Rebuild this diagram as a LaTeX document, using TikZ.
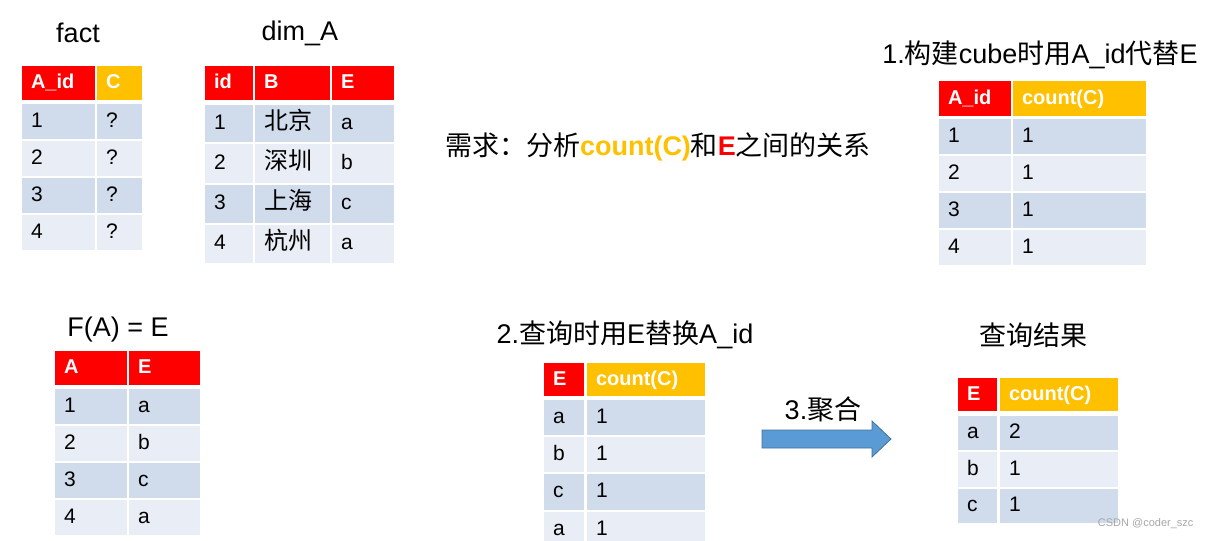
\documentclass[tikz,border=0pt]{standalone}
\usepackage{fontspec}
\setmainfont{Liberation Sans}
\newfontfamily\cjk{Noto Sans CJK SC}
\definecolor{hred}{HTML}{FF0000}
\definecolor{horg}{HTML}{FFC000}
\definecolor{rowa}{HTML}{D0DBEC}
\definecolor{rowb}{HTML}{E9EDF5}
\definecolor{arrowblue}{HTML}{5B9BD5}
\definecolor{arrowedge}{HTML}{41719C}
\newcommand{\hd}{\fontsize{20}{22}\selectfont\bfseries\color{white}}
\newcommand{\cell}[7]{%
  \pgfmathsetmacro{\cw}{#4-#2}\pgfmathsetmacro{\ch}{#5-#3}\pgfmathsetmacro{\ctw}{#4-#2-18}%
  \pgfmathsetmacro{\cx}{(#2+#4)/2}\pgfmathsetmacro{\cy}{(#3+#5)/2}%
  \node[cellbox,fill=#6,minimum width=\cw pt,minimum height=\ch pt,text width=\ctw pt] (#1) at (\cx,\cy) {#7};}
\tikzset{
  cellbox/.style={inner xsep=9pt,inner ysep=0pt,align=left,font=\fontsize{21}{23}\selectfont,text height=15pt,text depth=4pt},
  ttl/.style={font=\fontsize{27}{30}\selectfont,inner sep=0pt}
}
\begin{document}
\begin{tikzpicture}[x=1pt,y=-1pt]
\useasboundingbox (0,0) rectangle (1211,541);
% titles
\node[ttl] (tfact) at (78,33) {fact};
\node[ttl] (tdim) at (300,33) {dim\_A};
\node[ttl] (tcube) at (1040,55) {1.{\cjk 构建}cube{\cjk 时用}A\_id{\cjk 代替}E};
\node[ttl] (treq) at (658,147) {{\cjk 需求：分析}{\bfseries\color{horg}count(C)}{\cjk 和}{\bfseries\color{hred}E}{\cjk 之间的关系}};
\node[ttl] (tfa) at (118,330) {F(A) = E};
\node[ttl] (tq) at (625,335) {2.{\cjk 查询时用}E{\cjk 替换}A\_id};
\node[ttl] (tres) at (1033,335) {\cjk 查询结果};
\node[ttl] (tagg) at (823,409) {3.{\cjk 聚合}};
% fact
\cell{f0a}{22}{66}{95}{100}{hred}{\hd A\_id}
\cell{f0b}{97}{66}{142}{100}{horg}{\hd C}
\cell{f1a}{22}{104}{95}{139}{rowa}{1}\cell{f1b}{97}{104}{142}{139}{rowa}{?}
\cell{f2a}{22}{141}{95}{176}{rowb}{2}\cell{f2b}{97}{141}{142}{176}{rowb}{?}
\cell{f3a}{22}{178}{95}{213}{rowa}{3}\cell{f3b}{97}{178}{142}{213}{rowa}{?}
\cell{f4a}{22}{215}{95}{250}{rowb}{4}\cell{f4b}{97}{215}{142}{250}{rowb}{?}
% dim_A
\cell{d0a}{205}{66}{253}{100}{hred}{\hd id}
\cell{d0b}{255}{66}{330}{100}{hred}{\hd B}
\cell{d0c}{332}{66}{394}{100}{hred}{\hd E}
\cell{d1a}{205}{105}{253}{142}{rowa}{1}\cell{d1b}{255}{105}{330}{142}{rowa}{\fontsize{24}{26}\selectfont\cjk 北京}\cell{d1c}{332}{105}{394}{142}{rowa}{a}
\cell{d2a}{205}{144}{253}{183}{rowb}{2}\cell{d2b}{255}{144}{330}{183}{rowb}{\fontsize{24}{26}\selectfont\cjk 深圳}\cell{d2c}{332}{144}{394}{183}{rowb}{b}
\cell{d3a}{205}{185}{253}{223}{rowa}{3}\cell{d3b}{255}{185}{330}{223}{rowa}{\fontsize{24}{26}\selectfont\cjk 上海}\cell{d3c}{332}{185}{394}{223}{rowa}{c}
\cell{d4a}{205}{225}{253}{263}{rowb}{4}\cell{d4b}{255}{225}{330}{263}{rowb}{\fontsize{24}{26}\selectfont\cjk 杭州}\cell{d4c}{332}{225}{394}{263}{rowb}{a}
% cube
\cell{c0a}{939}{81}{1011}{116}{hred}{\hd A\_id}
\cell{c0b}{1013}{81}{1146}{116}{horg}{\hd count(C)}
\cell{c1a}{939}{119}{1011}{154}{rowa}{1}\cell{c1b}{1013}{119}{1146}{154}{rowa}{1}
\cell{c2a}{939}{156}{1011}{191}{rowb}{2}\cell{c2b}{1013}{156}{1146}{191}{rowb}{1}
\cell{c3a}{939}{193}{1011}{228}{rowa}{3}\cell{c3b}{1013}{193}{1146}{228}{rowa}{1}
\cell{c4a}{939}{230}{1011}{265}{rowb}{4}\cell{c4b}{1013}{230}{1146}{265}{rowb}{1}
% F(A)
\cell{a0a}{55}{351}{127}{385}{hred}{\hd A}
\cell{a0b}{129}{351}{200}{385}{hred}{\hd E}
\cell{a1a}{55}{389}{127}{424}{rowa}{1}\cell{a1b}{129}{389}{200}{424}{rowa}{a}
\cell{a2a}{55}{426}{127}{461}{rowb}{2}\cell{a2b}{129}{426}{200}{461}{rowb}{b}
\cell{a3a}{55}{463}{127}{498}{rowa}{3}\cell{a3b}{129}{463}{200}{498}{rowa}{c}
\cell{a4a}{55}{500}{127}{535}{rowb}{4}\cell{a4b}{129}{500}{200}{535}{rowb}{a}
% query
\cell{q0a}{544}{363}{584}{396}{hred}{\hd E}
\cell{q0b}{587}{363}{705}{396}{horg}{\hd count(C)}
\cell{q1a}{544}{400}{584}{435}{rowa}{a}\cell{q1b}{587}{400}{705}{435}{rowa}{1}
\cell{q2a}{544}{437}{584}{472}{rowb}{b}\cell{q2b}{587}{437}{705}{472}{rowb}{1}
\cell{q3a}{544}{474}{584}{510}{rowa}{c}\cell{q3b}{587}{474}{705}{510}{rowa}{1}
\cell{q4a}{544}{512}{584}{548}{rowb}{a}\cell{q4b}{587}{512}{705}{548}{rowb}{1}
% result
\cell{r0a}{958}{378}{997}{411}{hred}{\hd E}
\cell{r0b}{1000}{378}{1118}{411}{horg}{\hd count(C)}
\cell{r1a}{958}{416}{997}{450}{rowa}{a}\cell{r1b}{1000}{416}{1118}{450}{rowa}{2}
\cell{r2a}{958}{452}{997}{487}{rowb}{b}\cell{r2b}{1000}{452}{1118}{487}{rowb}{1}
\cell{r3a}{958}{489}{997}{523}{rowa}{c}\cell{r3b}{1000}{489}{1118}{523}{rowa}{1}
% arrow
\draw[fill=arrowblue,draw=arrowedge,line width=0.8pt] (762,430) -- (872,430) -- (872,421) -- (891,439) -- (872,457) -- (872,448) -- (762,448) -- cycle;
\node[font=\fontsize{11}{12}\selectfont,text=gray!70,anchor=east] (wm) at (1197,524) {CSDN @coder\_szc};
\end{tikzpicture}
\end{document}
